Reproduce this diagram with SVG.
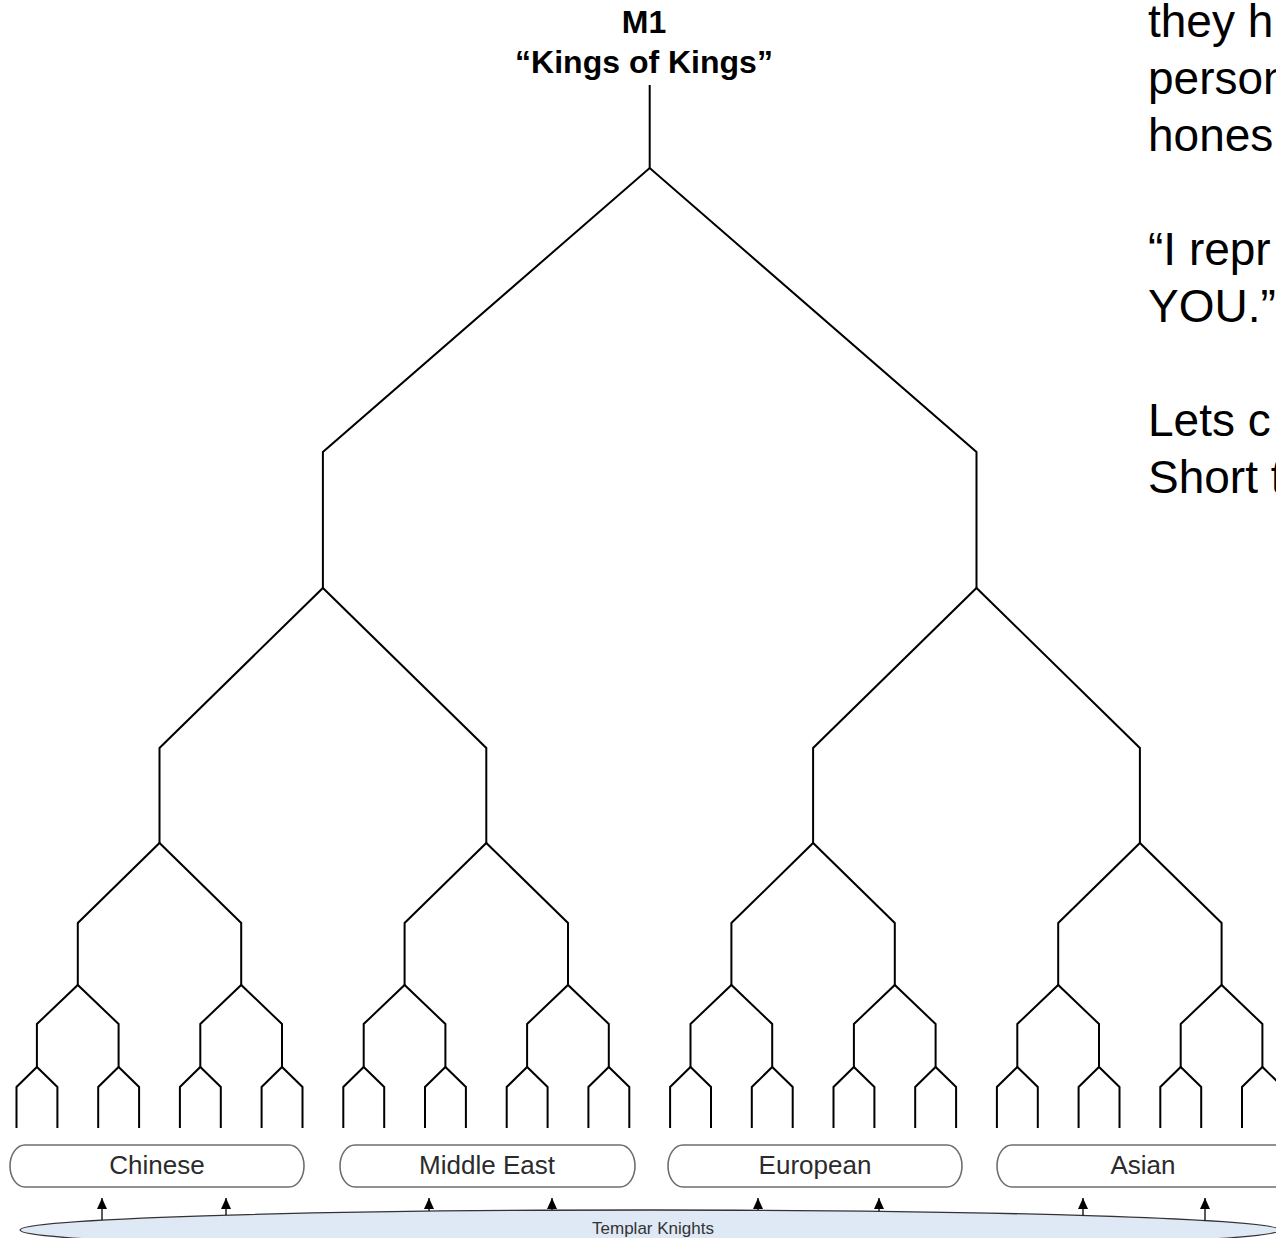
<svg xmlns="http://www.w3.org/2000/svg" width="1276" height="1238" viewBox="0 0 1276 1238">
<defs>
<style>
.br{fill:none;stroke:#000;stroke-width:2;stroke-linejoin:miter}
.box{fill:#fff;stroke:#6e6e6e;stroke-width:1.6}
.lbl{font-family:"Liberation Sans",Arial,sans-serif;font-size:26px;fill:#2b2b2b;text-anchor:middle}
.ttl{font-family:"Liberation Sans",Arial,sans-serif;font-size:32px;font-weight:bold;fill:#000;text-anchor:middle}
.side{font-family:"Liberation Sans",Arial,sans-serif;font-size:46px;fill:#000}
.arr{stroke:#000;stroke-width:1.3;fill:none}
</style>
<marker id="ah" markerUnits="userSpaceOnUse" markerWidth="10" markerHeight="11" refX="5" refY="0" orient="0" viewBox="0 0 10 11">
<path d="M0,11 L5,0 L10,11 Z" fill="#000"/>
</marker>
</defs>
<rect width="1276" height="1238" fill="#fff"/>

<g id="title">
<text class="ttl" x="644" y="33">M1</text>
<text class="ttl" x="644" y="73">“Kings of Kings”</text>
</g>

<g id="side-text">
<text class="side" x="1148" y="37">they h</text>
<text class="side" x="1148" y="94">person</text>
<text class="side" x="1148" y="151">hones</text>
<text class="side" x="1148" y="265">“I repr</text>
<text class="side" x="1148" y="322">YOU.”</text>
<text class="side" x="1148" y="436">Lets c</text>
<text class="side" x="1148" y="493">Short t</text>
</g>

<g id="templar-knights">
<ellipse cx="650" cy="1230" rx="630" ry="20" fill="#dfe8f5" stroke="#333" stroke-width="1.3"/>
<text x="653" y="1234" font-family="Liberation Sans, Arial, sans-serif" font-size="17" fill="#333" text-anchor="middle">Templar Knights</text>
</g>

<g id="chinese">
<rect class="box" x="10" y="1145" width="294" height="42" rx="15" ry="21"/>
<text class="lbl" x="157" y="1174">Chinese</text>
</g>
<g id="middle-east">
<rect class="box" x="340" y="1145" width="295" height="42" rx="15" ry="21"/>
<text class="lbl" x="487" y="1174">Middle East</text>
</g>
<g id="european">
<rect class="box" x="668" y="1145" width="294" height="42" rx="15" ry="21"/>
<text class="lbl" x="815" y="1174">European</text>
</g>
<g id="asian">
<rect class="box" x="997" y="1145" width="300" height="42" rx="15" ry="21"/>
<text class="lbl" x="1143" y="1174">Asian</text>
</g>

<g id="connectors">
<g id="tree">
<path class="br" d="M649.7 85V168"/>
<path class="br" d="M322.9 588V452L649.7 168L976.5 452V588"/>
<path class="br" d="M159.5 843V748L322.9 588L486.3 748V843"/>
<path class="br" d="M813.1 843V748L976.5 588L1139.9 748V843"/>
<path class="br" d="M77.8 985V923L159.5 843L241.2 923V985"/>
<path class="br" d="M404.6 985V923L486.3 843L568 923V985"/>
<path class="br" d="M731.4 985V923L813.1 843L894.8 923V985"/>
<path class="br" d="M1058.2 985V923L1139.9 843L1221.6 923V985"/>
<path class="br" d="M36.9 1067V1024L77.8 985L118.6 1024V1067"/>
<path class="br" d="M200.3 1067V1024L241.2 985L282 1024V1067"/>
<path class="br" d="M363.7 1067V1024L404.6 985L445.4 1024V1067"/>
<path class="br" d="M527.1 1067V1024L568 985L608.8 1024V1067"/>
<path class="br" d="M690.5 1067V1024L731.4 985L772.2 1024V1067"/>
<path class="br" d="M853.9 1067V1024L894.8 985L935.6 1024V1067"/>
<path class="br" d="M1017.3 1067V1024L1058.2 985L1099 1024V1067"/>
<path class="br" d="M1180.7 1067V1024L1221.6 985L1262.4 1024V1067"/>
<path class="br" d="M16.5 1128V1087L36.9 1067L57.4 1087V1128"/>
<path class="br" d="M98.2 1128V1087L118.6 1067L139.1 1087V1128"/>
<path class="br" d="M179.9 1128V1087L200.3 1067L220.8 1087V1128"/>
<path class="br" d="M261.6 1128V1087L282 1067L302.5 1087V1128"/>
<path class="br" d="M343.3 1128V1087L363.7 1067L384.2 1087V1128"/>
<path class="br" d="M425 1128V1087L445.4 1067L465.9 1087V1128"/>
<path class="br" d="M506.7 1128V1087L527.1 1067L547.6 1087V1128"/>
<path class="br" d="M588.4 1128V1087L608.8 1067L629.3 1087V1128"/>
<path class="br" d="M670.1 1128V1087L690.5 1067L711 1087V1128"/>
<path class="br" d="M751.8 1128V1087L772.2 1067L792.7 1087V1128"/>
<path class="br" d="M833.5 1128V1087L853.9 1067L874.4 1087V1128"/>
<path class="br" d="M915.2 1128V1087L935.6 1067L956.1 1087V1128"/>
<path class="br" d="M996.9 1128V1087L1017.3 1067L1037.8 1087V1128"/>
<path class="br" d="M1078.6 1128V1087L1099 1067L1119.5 1087V1128"/>
<path class="br" d="M1160.3 1128V1087L1180.7 1067L1201.2 1087V1128"/>
<path class="br" d="M1242 1128V1087L1262.4 1067L1282.9 1087V1128"/>
</g>
<g id="arrows">
<path class="arr" d="M102 1220V1198" marker-end="url(#ah)"/>
<path class="arr" d="M226 1215V1198" marker-end="url(#ah)"/>
<path class="arr" d="M429 1211V1198" marker-end="url(#ah)"/>
<path class="arr" d="M552 1210V1198" marker-end="url(#ah)"/>
<path class="arr" d="M758 1210V1198" marker-end="url(#ah)"/>
<path class="arr" d="M879 1211V1198" marker-end="url(#ah)"/>
<path class="arr" d="M1083 1215.5V1198" marker-end="url(#ah)"/>
<path class="arr" d="M1205 1220.5V1198" marker-end="url(#ah)"/>
</g>
</g>
</svg>
